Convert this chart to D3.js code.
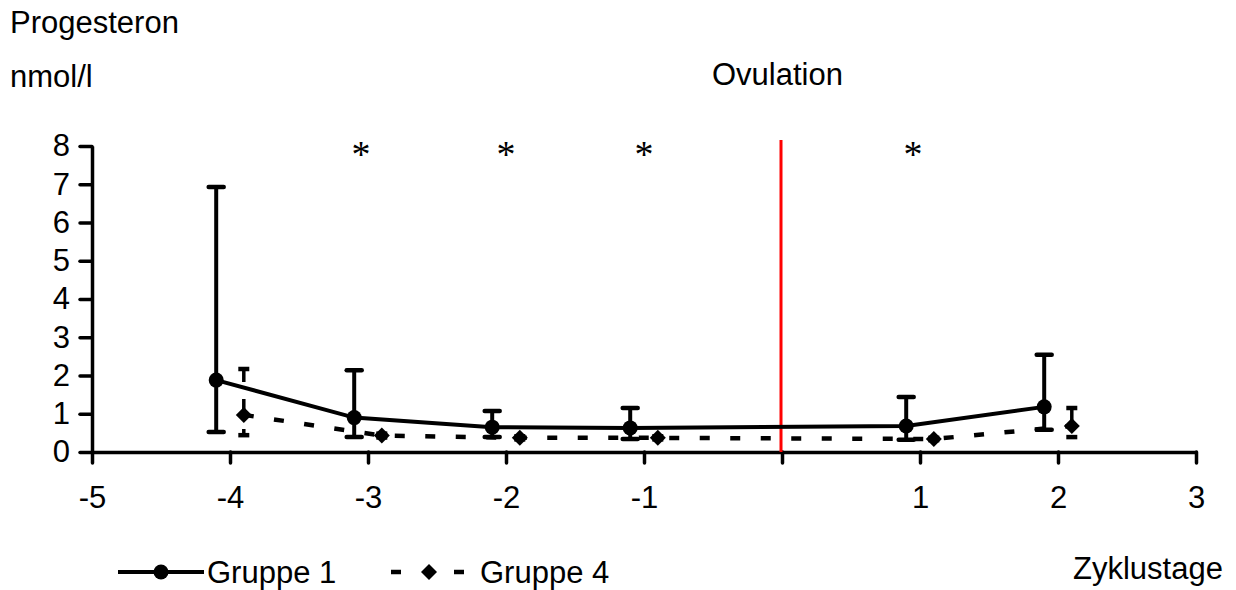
<!DOCTYPE html>
<html>
<head>
<meta charset="utf-8">
<script src="https://cdn.jsdelivr.net/npm/d3@7/dist/d3.min.js"></script>
<style>
  html, body { margin: 0; padding: 0; background: #fff; }
  svg { display: block; font-family: "Liberation Sans", Arial, sans-serif; }
</style>
</head>
<body>
<svg id="chart" width="1236" height="590"></svg>
<script>
// ---- data ----
const days = [-4, -3, -2, -1, 1, 2];
const g1Mean  = [1.88, 0.90, 0.65, 0.63, 0.68, 1.18];
const g1Upper = [6.93, 2.14, 1.07, 1.15, 1.44, 2.54];
const g1Lower = [0.52, 0.39, 0.39, 0.34, 0.32, 0.58];
const g4Mean  = [0.97, 0.43, 0.37, 0.37, 0.34, 0.68];
const g4Upper = [2.17, 0.48, 0.41, 0.41, 0.37, 1.15];
const g4Lower = [0.44, 0.38, 0.33, 0.33, 0.31, 0.39];
const xTicks = [-5, -4, -3, -2, -1, 0, 1, 2, 3];
const yTicks = [0, 1, 2, 3, 4, 5, 6, 7, 8];
const starDays = [-3.05, -2, -1, 0.95];
const ovulationDay = 0;
const seriesNames = ["Gruppe 1", "Gruppe 4"];

// ---- layout ----
const svg = d3.select("#chart");
const x = d3.scaleLinear().domain([-5, 3]).range([92, 1196]);
const y = d3.scaleLinear().domain([0, 8]).range([452, 146]);
const FS = 31;
const off = 0.1;

// axes
const xAxis = svg.append("g").attr("transform", `translate(0,${y(0)})`)
  .call(d3.axisBottom(x).tickValues(xTicks).tickSizeInner(11).tickSizeOuter(0).tickPadding(23)
    .tickFormat(d => d === 0 ? "" : d3.format("d")(d)));
const yAxis = svg.append("g").attr("transform", `translate(${x(-5)},0)`)
  .call(d3.axisLeft(y).tickValues(yTicks).tickSizeInner(12).tickSizeOuter(0).tickPadding(10)
    .tickFormat(d3.format("d")));
[xAxis, yAxis].forEach(a => {
  a.selectAll("path.domain").attr("stroke", "#000").attr("stroke-width", 3.5);
  a.selectAll(".tick line").attr("stroke", "#000").attr("stroke-width", 3.5).attr("stroke-linecap", "round");
  a.selectAll(".tick text").attr("fill", "#000").style("font-size", FS + "px")
    .style("font-family", '"Liberation Sans", Arial, sans-serif');
});
yAxis.selectAll(".tick text").text(d => d3.format("d")(d)).attr("text-anchor", "end");
xAxis.selectAll(".tick text").text(d => d === 0 ? "" : (d < 0 ? "-" + Math.abs(d) : d));

// ovulation line
svg.append("line")
  .attr("x1", x(ovulationDay) - 1).attr("x2", x(ovulationDay) - 1)
  .attr("y1", y(8.16)).attr("y2", y(0))
  .attr("stroke", "#ff0000").attr("stroke-width", 3);

// series data
const g1 = days.map((d, i) => ({ x: d - off, m: g1Mean[i], lo: g1Lower[i], hi: g1Upper[i] }));
const g4 = days.map((d, i) => ({ x: d + off, m: g4Mean[i], lo: g4Lower[i], hi: g4Upper[i] }));
const line = d3.line().x(d => x(d.x)).y(d => y(d.m));

// group 4 (dashed)
const DASH = "10,20.5";
const g4g = svg.append("g");
g4g.append("path").datum(g4).attr("d", line)
  .attr("fill", "none").attr("stroke", "#000").attr("stroke-width", 4.5)
  .attr("stroke-dasharray", DASH);
g4.forEach(d => {
  const cx = x(d.x);
  g4g.append("path")
    .attr("d", `M${cx},${y(d.hi)}L${cx},${y(d.lo)}`)
    .attr("stroke", "#000").attr("stroke-width", 3.5).attr("fill", "none")
    .attr("stroke-dasharray", "13,17");
  [d.hi, d.lo].forEach(v => {
    g4g.append("line").attr("x1", cx - 5.5).attr("x2", cx + 5.5)
      .attr("y1", y(v)).attr("y2", y(v))
      .attr("stroke", "#000").attr("stroke-width", 4.5);
  });
});
const diamond = (cx, cy, r) => `M${cx},${cy - r}L${cx + r},${cy}L${cx},${cy + r}L${cx - r},${cy}Z`;
g4g.selectAll("path.mk").data(g4).join("path").attr("class", "mk")
  .attr("d", d => diamond(x(d.x), y(d.m), 8)).attr("fill", "#000");

// group 1 (solid)
const g1g = svg.append("g");
g1g.append("path").datum(g1).attr("d", line)
  .attr("fill", "none").attr("stroke", "#000").attr("stroke-width", 4);
g1.forEach(d => {
  const cx = x(d.x);
  g1g.append("line").attr("x1", cx).attr("x2", cx).attr("y1", y(d.hi)).attr("y2", y(d.lo))
    .attr("stroke", "#000").attr("stroke-width", 4);
  [d.hi, d.lo].forEach(v => {
    g1g.append("line").attr("x1", cx - 7.5).attr("x2", cx + 7.5)
      .attr("y1", y(v)).attr("y2", y(v))
      .attr("stroke", "#000").attr("stroke-width", 4.5).attr("stroke-linecap", "round");
  });
});
g1g.selectAll("circle").data(g1).join("circle")
  .attr("cx", d => x(d.x)).attr("cy", d => y(d.m)).attr("r", 7.5).attr("fill", "#000");

// significance stars
svg.selectAll("text.star").data(starDays).join("text").attr("class", "star")
  .attr("x", d => x(d)).attr("y", 167).attr("text-anchor", "middle")
  .style("font-family", '"Liberation Serif", "Times New Roman", serif')
  .style("font-size", "38px").attr("fill", "#000").text("*");

// titles
const txt = (t, xx, yy, anchor) => svg.append("text").attr("x", xx).attr("y", yy)
  .attr("text-anchor", anchor || "start").style("font-size", FS + "px").attr("fill", "#000").text(t);
txt("Progesteron", 10, 33);
txt("nmol/l", 10, 87);
txt("Ovulation", 712, 85);
txt("Zyklustage", 1073, 579);

// legend
const ly = 572;
const leg = svg.append("g");
leg.append("line").attr("x1", 118).attr("x2", 204).attr("y1", ly).attr("y2", ly)
  .attr("stroke", "#000").attr("stroke-width", 4);
leg.append("circle").attr("cx", 161).attr("cy", ly).attr("r", 7.5).attr("fill", "#000");
txt(seriesNames[0], 207, ly + 11);
[[391, 401], [454, 464]].forEach(([a, b]) => {
  leg.append("line").attr("x1", a).attr("x2", b).attr("y1", ly).attr("y2", ly)
    .attr("stroke", "#000").attr("stroke-width", 4.5);
});
leg.append("path").attr("d", diamond(429, ly, 8)).attr("fill", "#000");
txt(seriesNames[1], 480, ly + 11);
</script>
</body>
</html>
